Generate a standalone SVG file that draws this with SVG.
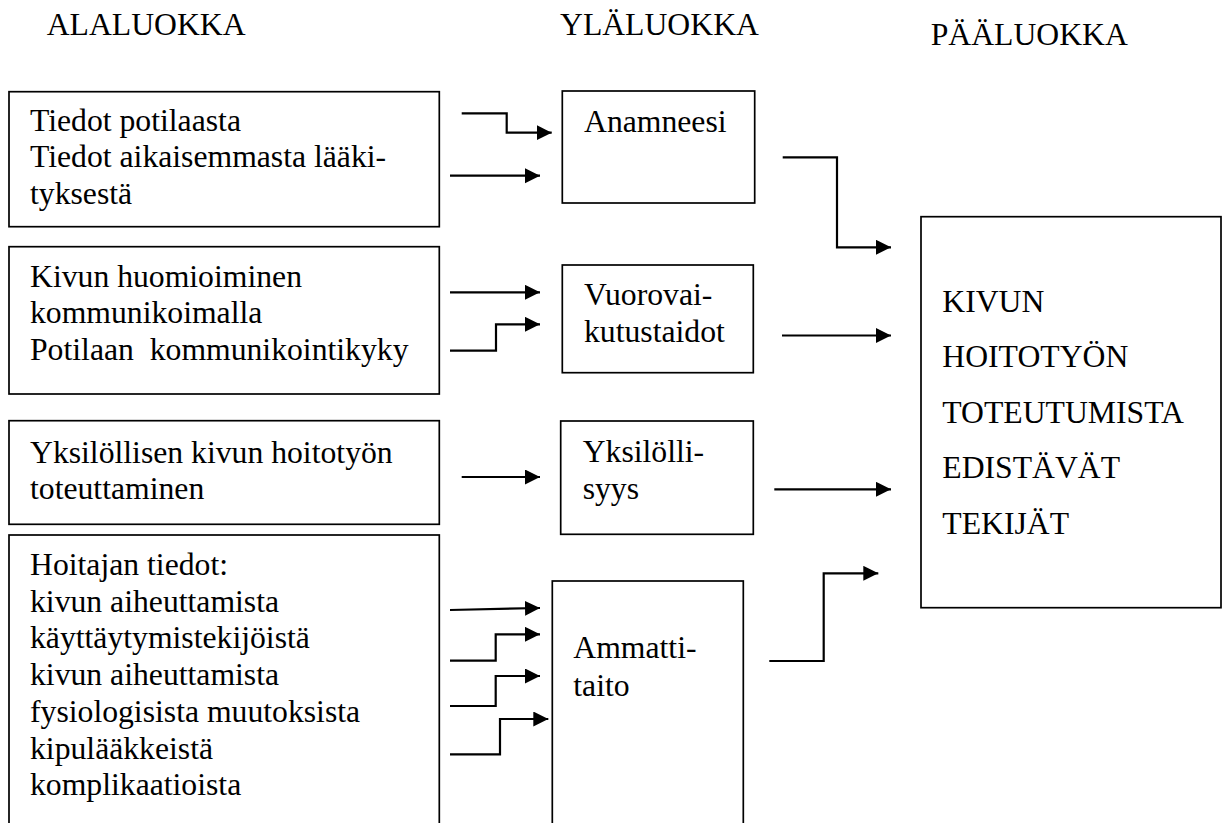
<svg xmlns="http://www.w3.org/2000/svg" width="1227" height="823" viewBox="0 0 1227 823">
<style>
  .box { fill: #ffffff; stroke: #000000; stroke-width: 1.7; }
  .t { font-family: "Liberation Serif", "Times New Roman", serif; font-size: 31.7px; fill: #000000; }
  .conn { fill: none; stroke: #000000; stroke-width: 2.2; marker-end: url(#arrow); }
</style>
<defs>
  <marker id="arrow" markerUnits="userSpaceOnUse" markerWidth="16" markerHeight="16" refX="15" refY="7.5" orient="auto">
    <path d="M0,0 L15,7.5 L0,15 Z" fill="#000000"/>
  </marker>
</defs>
<rect width="1227" height="823" fill="#ffffff"/>

<g id="headers">
  <text class="t" x="46.7" y="35">ALALUOKKA</text>
  <text class="t" x="560" y="35">YLÄLUOKKA</text>
  <text class="t" x="930.7" y="45">PÄÄLUOKKA</text>
</g>

<g id="node-tiedot">
  <rect class="box" x="9" y="91.7" width="430.3" height="135"/>
  <text class="t" x="30" y="130.7">Tiedot potilaasta</text>
  <text class="t" x="30" y="167.4">Tiedot aikaisemmasta lääki-</text>
  <text class="t" x="30" y="204">tyksestä</text>
</g>

<g id="node-kivun">
  <rect class="box" x="9" y="246.7" width="430.3" height="147.3"/>
  <text class="t" x="30" y="286.7">Kivun huomioiminen</text>
  <text class="t" x="30" y="323.4">kommunikoimalla</text>
  <text class="t" x="30" y="360" xml:space="preserve">Potilaan  kommunikointikyky</text>
</g>

<g id="node-yksilollisen">
  <rect class="box" x="9" y="420.7" width="430.3" height="103.6"/>
  <text class="t" x="30" y="462.7">Yksilöllisen kivun hoitotyön</text>
  <text class="t" x="30" y="499.4">toteuttaminen</text>
</g>

<g id="node-hoitajan">
  <rect class="box" x="9" y="535" width="430.3" height="300"/>
  <text class="t" x="30" y="575">Hoitajan tiedot:</text>
  <text class="t" x="30" y="611.7">kivun aiheuttamista</text>
  <text class="t" x="30" y="648.4">käyttäytymistekijöistä</text>
  <text class="t" x="30" y="685.1">kivun aiheuttamista</text>
  <text class="t" x="30" y="721.8">fysiologisista muutoksista</text>
  <text class="t" x="30" y="758.5">kipulääkkeistä</text>
  <text class="t" x="30" y="795.2">komplikaatioista</text>
</g>

<g id="node-anamneesi">
  <rect class="box" x="562.3" y="91" width="192.4" height="112"/>
  <text class="t" x="584" y="131.7">Anamneesi</text>
</g>

<g id="node-vuorovaikutustaidot">
  <rect class="box" x="562.3" y="265" width="191" height="107.7"/>
  <text class="t" x="584" y="305">Vuorovai-</text>
  <text class="t" x="584" y="342">kutustaidot</text>
</g>

<g id="node-yksilollisyys">
  <rect class="box" x="560.7" y="421" width="192.6" height="113.3"/>
  <text class="t" x="582.7" y="461.5">Yksilölli-</text>
  <text class="t" x="582.7" y="498.5">syys</text>
</g>

<g id="node-ammattitaito">
  <rect class="box" x="552.3" y="581" width="191" height="260"/>
  <text class="t" x="573.3" y="658.3">Ammatti-</text>
  <text class="t" x="573.3" y="695.5">taito</text>
</g>

<g id="node-paaluokka">
  <rect class="box" x="921" y="216.7" width="300" height="391"/>
  <text class="t" x="942.3" y="311.7">KIVUN</text>
  <text class="t" x="942.3" y="367.2">HOITOTYÖN</text>
  <text class="t" x="942.3" y="422.7">TOTEUTUMISTA</text>
  <text class="t" x="942.3" y="478.2">EDISTÄVÄT</text>
  <text class="t" x="942.3" y="533.7">TEKIJÄT</text>
</g>

<g id="connectors">
  <polyline class="conn" points="461.7,113.3 506.7,113.3 506.7,132.7 551.7,132.7"/>
  <polyline class="conn" points="450,175.7 540,175.7"/>
  <polyline class="conn" points="450,292.3 540,292.3"/>
  <polyline class="conn" points="450,350.7 496,350.7 496,324.3 540,324.3"/>
  <polyline class="conn" points="461.7,477 540,477"/>
  <polyline class="conn" points="450,610 540,608"/>
  <polyline class="conn" points="450,660.7 495.7,660.7 495.7,634.3 540,634.3"/>
  <polyline class="conn" points="450,706 495.7,706 495.7,676 540,676"/>
  <polyline class="conn" points="450,754.3 500,754.3 500,719 548.3,719"/>
  <polyline class="conn" points="782.7,157.3 837,157.3 837,247.3 891,247.3"/>
  <polyline class="conn" points="782,335.5 891,335.5"/>
  <polyline class="conn" points="774.3,489.3 891,489.3"/>
  <polyline class="conn" points="769.3,661 823.7,661 823.7,573.3 878.3,573.3"/>
</g>
</svg>
